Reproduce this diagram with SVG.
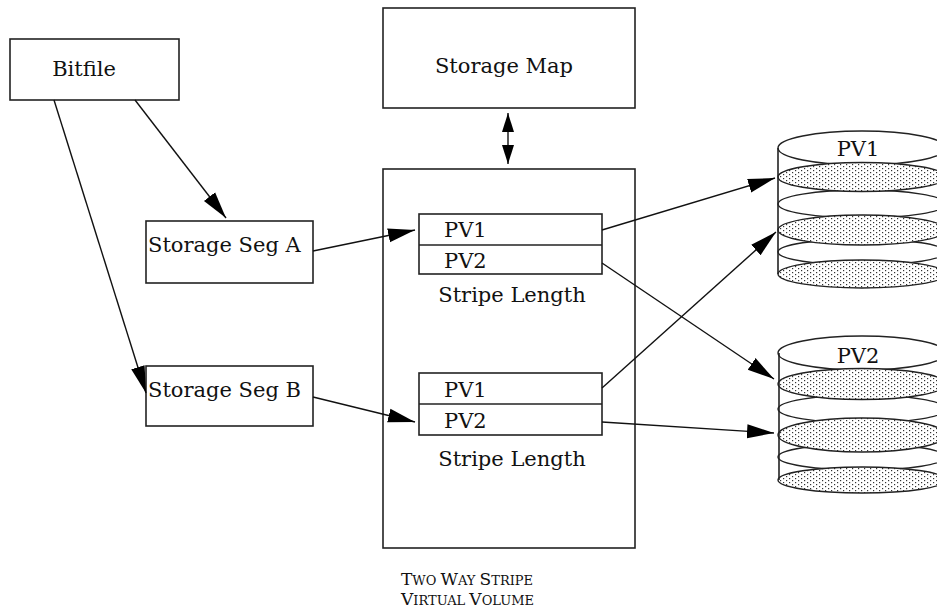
<svg xmlns="http://www.w3.org/2000/svg" width="937" height="612" viewBox="0 0 937 612">
<style>
.box{fill:#fff;stroke:#222;stroke-width:1.6}
.t{font-family:"DejaVu Serif","Liberation Serif",serif;font-size:21px;fill:#111}
.c{fill:none;stroke:#111;stroke-width:1.4}
.w{fill:#fff;stroke:#222;stroke-width:1.4}
.d{fill:url(#dots);stroke:#222;stroke-width:1.4}
.sc{font-family:"DejaVu Serif","Liberation Serif",serif;fill:#111}
</style>
<defs>
<pattern id="dots" width="6" height="4" patternUnits="userSpaceOnUse">
<rect width="6" height="4" fill="#fff"/>
<rect x="0" y="0" width="1.2" height="1.2" fill="#333"/>
<rect x="3" y="2" width="1.2" height="1.2" fill="#333"/>
</pattern>
<marker id="ah" markerUnits="userSpaceOnUse" markerWidth="28" markerHeight="16" refX="27" refY="8" orient="auto">
<path d="M0,1 L27,8 L0,15 z" fill="#000"/>
</marker>
<marker id="ahs" markerUnits="userSpaceOnUse" markerWidth="20" markerHeight="14" refX="19" refY="7" orient="auto-start-reverse">
<path d="M0,1 L19,7 L0,13 z" fill="#000"/>
</marker>
</defs>

<g id="bitfile">
<rect class="box" x="10" y="39" width="169" height="61"/>
<text class="t" x="84" y="76" text-anchor="middle">Bitfile</text>
</g>

<g id="storage-map">
<rect class="box" x="383" y="8" width="252" height="100"/>
<text class="t" x="504" y="73" text-anchor="middle">Storage Map</text>
</g>

<g id="virtual-volume">
<rect class="box" x="383" y="169" width="252" height="379"/>
<text class="sc" x="401" y="585"><tspan font-size="17">T</tspan><tspan font-size="13">WO </tspan><tspan font-size="17">W</tspan><tspan font-size="13">AY </tspan><tspan font-size="17">S</tspan><tspan font-size="13">TRIPE</tspan></text>
<text class="sc" x="401" y="605"><tspan font-size="17">V</tspan><tspan font-size="13">IRTUAL </tspan><tspan font-size="17">V</tspan><tspan font-size="13">OLUME</tspan></text>
</g>

<g id="seg-a">
<rect class="box" x="146" y="221" width="167" height="62"/>
<text class="t" x="148" y="252">Storage Seg A</text>
</g>

<g id="seg-b">
<rect class="box" x="146" y="366" width="167" height="60"/>
<text class="t" x="148" y="397">Storage Seg B</text>
</g>

<g id="stripe-1">
<rect class="box" x="419" y="214" width="183" height="60"/>
<line x1="419" y1="245" x2="602" y2="245" stroke="#222" stroke-width="1.6"/>
<text class="t" x="444" y="237">PV1</text>
<text class="t" x="444" y="268">PV2</text>
<text class="t" x="512" y="302" text-anchor="middle">Stripe Length</text>
</g>

<g id="stripe-2">
<rect class="box" x="419" y="373" width="183" height="62"/>
<line x1="419" y1="404" x2="602" y2="404" stroke="#222" stroke-width="1.6"/>
<text class="t" x="444" y="397">PV1</text>
<text class="t" x="444" y="428">PV2</text>
<text class="t" x="512" y="466" text-anchor="middle">Stripe Length</text>
</g>

<g id="disk-pv1">
<ellipse class="w" cx="862" cy="148" rx="84" ry="17"/>
<ellipse class="w" cx="862" cy="204" rx="84" ry="14"/>
<ellipse class="w" cx="862" cy="252" rx="84" ry="13"/>
<ellipse class="d" cx="862" cy="177" rx="84" ry="14.5"/>
<ellipse class="d" cx="862" cy="230" rx="84" ry="15"/>
<ellipse class="d" cx="862" cy="274" rx="84" ry="14"/>
<line x1="778" y1="148" x2="778" y2="274" stroke="#222" stroke-width="1.6"/>
<text class="t" x="858" y="156" text-anchor="middle">PV1</text>
</g>

<g id="disk-pv2">
<ellipse class="w" cx="862" cy="353" rx="84" ry="17"/>
<ellipse class="w" cx="862" cy="409" rx="84" ry="14"/>
<ellipse class="w" cx="862" cy="457" rx="84" ry="13"/>
<ellipse class="d" cx="862" cy="384" rx="84" ry="15.5"/>
<ellipse class="d" cx="862" cy="435" rx="84" ry="17"/>
<ellipse class="d" cx="862" cy="480" rx="84" ry="13"/>
<line x1="779" y1="353" x2="779" y2="480" stroke="#222" stroke-width="1.6"/>
<text class="t" x="858" y="363" text-anchor="middle">PV2</text>
</g>

<g id="connectors">
<line class="c" x1="135" y1="100" x2="226" y2="218" marker-end="url(#ah)"/>
<line class="c" x1="54" y1="100" x2="146" y2="393" marker-end="url(#ah)"/>
<line class="c" x1="508" y1="113" x2="508" y2="164" marker-start="url(#ahs)" marker-end="url(#ahs)"/>
<line class="c" x1="313" y1="251" x2="415" y2="230" marker-end="url(#ah)"/>
<line class="c" x1="313" y1="397" x2="415" y2="422" marker-end="url(#ah)"/>
<line class="c" x1="602" y1="230" x2="775" y2="178" marker-end="url(#ah)"/>
<line class="c" x1="602" y1="263" x2="774" y2="379" marker-end="url(#ah)"/>
<line class="c" x1="602" y1="388" x2="776" y2="232" marker-end="url(#ah)"/>
<line class="c" x1="602" y1="422" x2="774" y2="433" marker-end="url(#ah)"/>
</g>
</svg>
